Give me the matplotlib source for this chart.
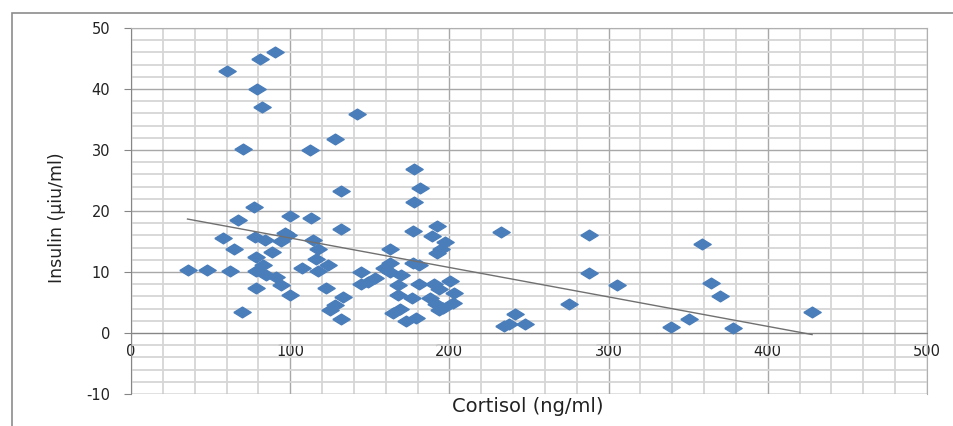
import numpy as np
import matplotlib
matplotlib.use("Agg")
import matplotlib.pyplot as plt
from matplotlib.patches import Rectangle
from matplotlib.ticker import MultipleLocator

plt.rcParams['axes.unicode_minus'] = False

# cortisol (ng/ml) vs insulin (uiu/ml)
cortisol = [35.5, 48, 62, 57.5, 64.8, 67.3, 70, 70.4, 60.6, 79, 81, 90.4, 82,
            77, 77.7, 84, 96.6, 98.6, 94.5, 78.8, 88.8, 83, 78.8, 85, 91.3, 94.5,
            78.4, 99.7, 99.7, 107.2, 112.2, 113.2, 114.3, 117.4, 116.2, 117.4,
            123.9, 122.2, 127.9, 131.7, 131.7, 133, 128, 124.8, 132, 141.7,
            178, 181.6, 178, 177, 192, 189, 197.5, 194.8, 192, 162.6, 162.4,
            159.2, 177, 181.2, 144.6, 162.4, 169.7, 153, 148.8, 144.6, 167.6,
            181.2, 190.6, 200.5, 193.7, 203, 167.6, 187.5, 176.5, 191.6, 202,
            195.8, 193.7, 168.7, 164.5, 178.8, 172.8,
            232.5, 288, 287.6, 275.2, 241.4, 234.5, 237.5, 247.3, 305.5, 358.8,
            364.5, 369.7, 350.5, 339, 378.2, 427.8]
insulin = [10.3, 10.3, 10.2, 15.5, 13.7, 18.6, 3.4, 30.1, 43.0, 40.0, 44.9, 46.0, 37.1,
           20.7, 15.8, 15.3, 16.4, 16.0, 15.1, 12.5, 13.2, 11.1, 10.2, 9.5, 9.2, 7.9,
           7.3, 6.3, 19.2, 10.7, 30.0, 18.9, 15.2, 13.7, 12.2, 10.2,
           11.1, 7.3, 31.8, 23.3, 17.0, 5.9, 4.6, 3.8, 2.3, 35.9,
           26.9, 23.7, 21.5, 16.8, 17.6, 15.9, 15.0, 13.7, 13.1, 13.7, 11.5,
           10.6, 11.5, 11.1, 10.0, 10.0, 9.5, 9.0, 8.4, 8.0, 7.9,
           8.0, 8.0, 8.6, 7.2, 6.5, 6.3, 5.8, 5.7, 4.7, 4.9,
           4.1, 3.8, 4.0, 3.2, 2.5, 1.9,
           16.6, 16.1, 9.9, 4.7, 3.1, 1.2, 1.4, 1.5, 7.8, 14.6,
           8.2, 6.1, 2.3, 1.0, 0.8, 3.5]

x_ticks = [0, 100, 200, 300, 400, 500]
y_ticks = [-10, 0, 10, 20, 30, 40, 50]

x = np.array(cortisol)
y = np.array(insulin)
slope, intercept = np.polyfit(x, y, 1)  # linear trend line

fig = plt.figure(figsize=(9.54, 4.26), dpi=100)
ax = fig.add_axes([131 / 954, 32 / 426, 796 / 954, 366 / 426])

# outer chart border (only left and top show in the crop)
fig.add_artist(Rectangle((12 / 954, -0.1), 1.2, (426 - 13) / 426 + 0.1,
                         transform=fig.transFigure, fill=False,
                         edgecolor='#8c8c8c', linewidth=1.2))

ax.set_xlim(0, 500)
ax.set_ylim(-10, 50)
ax.xaxis.set_minor_locator(MultipleLocator(20))
ax.yaxis.set_minor_locator(MultipleLocator(2))
ax.set_xticks(x_ticks)
ax.set_yticks(y_ticks)

ax.grid(which='major', color='#a8a8a8', linewidth=1.0)
ax.grid(which='minor', color='#d6d6d6', linewidth=1.3)
ax.set_axisbelow(True)

for s in ['top', 'right']:
    ax.spines[s].set_color('#b0b0b0')
ax.spines['left'].set_color('#868686')
ax.spines['bottom'].set_position(('data', 0))
ax.spines['bottom'].set_color('#868686')
ax.axhline(-10, color='#b0b0b0', linewidth=1.0, zorder=0)

ax.tick_params(axis='y', which='major', length=5, pad=10, colors='#868686',
               labelcolor='#222222', labelsize=10.5)
ax.tick_params(axis='x', which='major', length=0, pad=8,
               labelcolor='#222222', labelsize=10.5)
ax.tick_params(which='minor', length=0)

diamond = [(-1, 0), (0, 0.62), (1, 0), (0, -0.62), (-1, 0)]
ax.plot(x, y, linestyle='none', marker=diamond, markersize=12.5,
        color='#4a7ebb', markeredgecolor='#4a7ebb', zorder=3)

xs = np.array([x.min(), x.max()])
ax.plot(xs, intercept + slope * xs, color='#707070', linewidth=1.0, zorder=4)

fig.text(528 / 954, 1 - 407 / 426, 'Cortisol (ng/ml)', ha='center', va='center',
         fontsize=14, color='#222222')
fig.text(57 / 954, 1 - 218 / 426, 'Insulin (µiu/ml)', rotation=90,
         ha='center', va='center', fontsize=12.5, color='#222222')

fig.savefig('out.png', dpi=100)
